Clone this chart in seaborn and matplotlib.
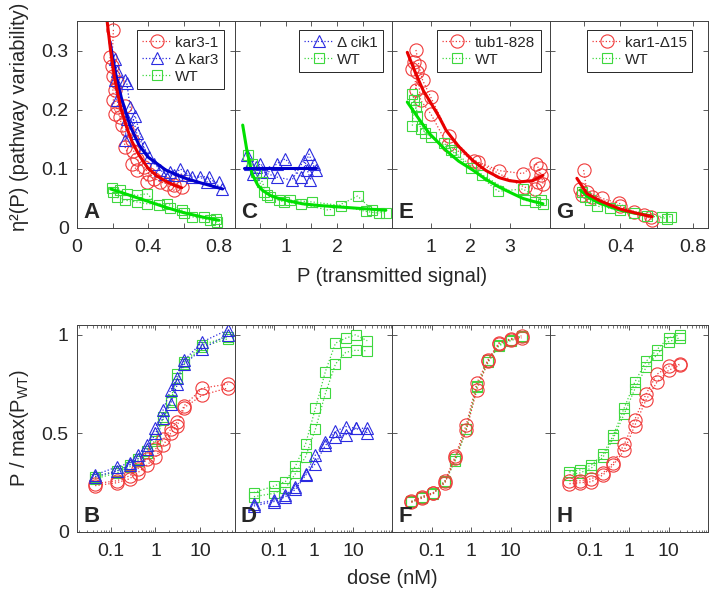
import matplotlib
matplotlib.use("Agg")
import matplotlib.pyplot as plt
import seaborn as sns
from matplotlib.ticker import LogLocator, NullFormatter

sns.set_style("ticks")
plt.rcParams['font.family'] = ['Liberation Sans', 'DejaVu Sans']
plt.rcParams['mathtext.fontset'] = 'custom'
plt.rcParams['mathtext.rm'] = 'Liberation Sans'
plt.rcParams['mathtext.it'] = 'Liberation Sans:italic'

# ---- panel A: kar3-1 / Δkar3 / WT
a_kar31_x1 = [0.186, 0.2, 0.215, 0.224, 0.243, 0.271, 0.28, 0.309, 0.318, 0.337, 0.375, 0.431, 0.507, 0.582]
a_kar31_y1 = [0.289, 0.257, 0.233, 0.247, 0.188, 0.207, 0.165, 0.148, 0.131, 0.117, 0.103, 0.083, 0.075, 0.08]
a_kar31_x2 = [0.205, 0.196, 0.205, 0.215, 0.224, 0.252, 0.271, 0.309, 0.337, 0.394, 0.403, 0.469, 0.544, 0.544, 0.591]
a_kar31_y2 = [0.335, 0.274, 0.216, 0.193, 0.205, 0.174, 0.137, 0.109, 0.098, 0.078, 0.092, 0.078, 0.072, 0.064, 0.069]
a_dkar3_x1 = [0.215, 0.215, 0.224, 0.28, 0.271, 0.327, 0.375, 0.431, 0.525, 0.62, 0.742, 0.817]
a_dkar3_y1 = [0.286, 0.25, 0.216, 0.184, 0.148, 0.19, 0.137, 0.109, 0.095, 0.089, 0.086, 0.066]
a_dkar3_x2 = [0.224, 0.271, 0.28, 0.299, 0.337, 0.403, 0.469, 0.497, 0.544, 0.582, 0.648, 0.695, 0.733, 0.798]
a_dkar3_y2 = [0.266, 0.25, 0.246, 0.205, 0.16, 0.12, 0.098, 0.092, 0.089, 0.1, 0.086, 0.086, 0.078, 0.078]
a_wt_x1 = [0.196, 0.243, 0.28, 0.337, 0.394, 0.46, 0.525, 0.6, 0.714, 0.789]
a_wt_y1 = [0.067, 0.064, 0.058, 0.055, 0.058, 0.039, 0.033, 0.025, 0.019, 0.010]
a_wt_x2 = [0.205, 0.224, 0.271, 0.337, 0.394, 0.507, 0.591, 0.648, 0.75, 0.785]
a_wt_y2 = [0.061, 0.052, 0.047, 0.044, 0.041, 0.041, 0.030, 0.019, 0.013, 0.016]
a_fit_red_x = [0.17, 0.19, 0.21, 0.23, 0.25, 0.28, 0.31, 0.35, 0.40, 0.45, 0.50, 0.55, 0.59]
a_fit_red_y = [0.349, 0.298, 0.257, 0.226, 0.200, 0.170, 0.146, 0.123, 0.101, 0.088, 0.079, 0.072, 0.068]
a_fit_blue_x = [0.186, 0.2, 0.22, 0.25, 0.3, 0.35, 0.4, 0.5, 0.6, 0.7, 0.82]
a_fit_blue_y = [0.315, 0.29, 0.258, 0.22, 0.172, 0.14, 0.12, 0.098, 0.085, 0.076, 0.066]
a_fit_green_x = [0.19, 0.3, 0.4, 0.5, 0.6, 0.7, 0.8]
a_fit_green_y = [0.066, 0.055, 0.045, 0.035, 0.026, 0.019, 0.013]

# ---- panel C: Δcik1 / WT
c_cik1_x1 = [0.24, 0.37, 0.5, 0.67, 0.83, 0.99, 1.29, 1.45, 1.58]
c_cik1_y1 = [0.123, 0.092, 0.109, 0.095, 0.109, 0.117, 0.086, 0.125, 0.098]
c_cik1_x2 = [0.31, 0.41, 0.54, 0.83, 1.12, 1.35, 1.42, 1.48, 1.55]
c_cik1_y2 = [0.109, 0.103, 0.095, 0.086, 0.081, 0.114, 0.098, 0.081, 0.109]
c_wt_x1 = [0.27, 0.41, 0.57, 0.70, 0.96, 1.29, 1.84, 2.40, 2.69, 2.95]
c_wt_y1 = [0.123, 0.095, 0.061, 0.053, 0.044, 0.041, 0.030, 0.054, 0.030, 0.025]
c_wt_x2 = [0.34, 0.54, 0.63, 0.86, 1.09, 1.52, 2.07, 2.56, 2.82]
c_wt_y2 = [0.109, 0.078, 0.056, 0.047, 0.047, 0.044, 0.038, 0.028, 0.025]
c_fit_blue_x = [0.18, 1.58]
c_fit_blue_y = [0.101, 0.101]
c_fit_green_x = [0.16, 0.24, 0.34, 0.45, 0.54, 0.7, 0.86, 1.1, 1.32, 1.65, 1.97, 2.3, 2.62, 2.95]
c_fit_green_y = [0.174, 0.132, 0.092, 0.073, 0.064, 0.055, 0.050, 0.045, 0.041, 0.038, 0.036, 0.034, 0.032, 0.030]

# ---- panel E: tub1-828 / WT
e_tub_x1 = [0.61, 0.69, 0.78, 0.99, 1.46, 2.10, 2.74, 3.34, 3.68, 3.81, 3.85]
e_tub_y1 = [0.301, 0.274, 0.25, 0.221, 0.156, 0.114, 0.097, 0.092, 0.109, 0.09, 0.075]
e_tub_x2 = [0.52, 0.56, 0.61, 0.65, 0.73, 0.99, 1.42, 2.19, 3.38, 3.64, 3.73, 3.77]
e_tub_y2 = [0.269, 0.281, 0.233, 0.263, 0.216, 0.193, 0.140, 0.111, 0.069, 0.066, 0.078, 0.101]
e_wt_x1 = [0.52, 0.61, 0.73, 0.99, 1.50, 2.02, 2.70, 3.34, 3.81]
e_wt_y1 = [0.227, 0.205, 0.168, 0.154, 0.132, 0.101, 0.062, 0.066, 0.047]
e_wt_x2 = [0.52, 0.56, 0.65, 0.85, 1.33, 1.60, 2.3, 3.38, 3.64, 3.85]
e_wt_y2 = [0.173, 0.216, 0.19, 0.16, 0.143, 0.128, 0.09, 0.047, 0.044, 0.040]
e_fit_red_x = [0.39, 0.6, 0.8, 0.95, 1.2, 1.38, 1.7, 2.06, 2.4, 2.74, 3.0, 3.25, 3.59, 3.85]
e_fit_red_y = [0.297, 0.262, 0.232, 0.216, 0.188, 0.165, 0.138, 0.114, 0.097, 0.085, 0.080, 0.078, 0.080, 0.089]
e_fit_green_x = [0.39, 0.7, 0.95, 1.38, 1.7, 2.06, 2.4, 2.74, 3.05, 3.34, 3.6, 3.85]
e_fit_green_y = [0.213, 0.183, 0.160, 0.131, 0.113, 0.098, 0.082, 0.069, 0.059, 0.050, 0.045, 0.041]

# ---- panel G: kar1-Δ15 / WT
g_kar1_x1 = [0.196, 0.215, 0.298, 0.391, 0.474, 0.567]
g_kar1_y1 = [0.098, 0.061, 0.050, 0.042, 0.027, 0.019]
g_kar1_x2 = [0.178, 0.187, 0.243, 0.4, 0.53, 0.576]
g_kar1_y2 = [0.066, 0.055, 0.053, 0.037, 0.022, 0.014]
g_wt_x1 = [0.187, 0.232, 0.341, 0.474, 0.632, 0.678]
g_wt_y1 = [0.061, 0.048, 0.034, 0.026, 0.019, 0.019]
g_wt_x2 = [0.204, 0.271, 0.4, 0.548, 0.66]
g_wt_y2 = [0.053, 0.037, 0.030, 0.021, 0.016]
g_fit_red_x = [0.159, 0.215, 0.28, 0.341, 0.4, 0.474, 0.576]
g_fit_red_y = [0.084, 0.058, 0.047, 0.039, 0.032, 0.026, 0.019]
g_fit_green_x = [0.178, 0.22, 0.271, 0.34, 0.4, 0.48, 0.56]
g_fit_green_y = [0.064, 0.053, 0.044, 0.036, 0.030, 0.025, 0.021]

# ---- dose response panels
b_dose = [0.045, 0.138, 0.265, 0.40, 0.65, 1.0, 1.49, 2.17, 3.08, 4.33, 11.2, 40.8]
b_dkar3_1 = [0.29, 0.33, 0.35, 0.39, 0.44, 0.53, 0.62, 0.72, 0.78, 0.87, 0.965, 1.025]
b_dkar3_2 = [0.28, 0.31, 0.34, 0.37, 0.42, 0.50, 0.58, 0.65, 0.75, 0.85, 0.93, 1.0]
b_wt_1 = [0.28, 0.31, 0.34, 0.37, 0.41, 0.47, 0.585, 0.67, 0.80, 0.86, 0.95, 0.99]
b_wt_2 = [0.27, 0.30, 0.33, 0.36, 0.40, 0.46, 0.57, 0.66, 0.78, 0.85, 0.94, 0.98]
b_kar31_1 = [0.245, 0.26, 0.285, 0.32, 0.37, 0.42, 0.47, 0.52, 0.56, 0.64, 0.73, 0.75]
b_kar31_2 = [0.235, 0.25, 0.27, 0.30, 0.34, 0.38, 0.44, 0.50, 0.54, 0.63, 0.695, 0.73]

d_dose = [0.031, 0.099, 0.195, 0.35, 0.63, 1.12, 2.0, 3.6, 6.5, 11.6, 23]
d_wt_1 = [0.2, 0.233, 0.256, 0.335, 0.447, 0.628, 0.814, 0.958, 0.983, 1.0, 0.97]
d_wt_2 = [0.179, 0.196, 0.221, 0.297, 0.382, 0.522, 0.703, 0.852, 0.911, 0.922, 0.919]
d_cik1_1 = [0.142, 0.162, 0.188, 0.227, 0.294, 0.391, 0.459, 0.51, 0.535, 0.526, 0.526]
d_cik1_2 = [0.132, 0.154, 0.179, 0.216, 0.288, 0.347, 0.44, 0.484, 0.493, 0.526, 0.504]

fh_dose = [0.031, 0.058, 0.112, 0.22, 0.40, 0.76, 1.4, 2.7, 5.1, 10, 19]
f_tub_1 = [0.155, 0.18, 0.2, 0.26, 0.385, 0.545, 0.755, 0.875, 0.96, 0.98, 0.995]
f_tub_2 = [0.15, 0.172, 0.197, 0.25, 0.375, 0.515, 0.72, 0.865, 0.955, 0.975, 0.985]
f_wt_1 = [0.152, 0.175, 0.195, 0.255, 0.36, 0.52, 0.735, 0.86, 0.945, 0.97, 0.99]
f_wt_2 = [0.155, 0.178, 0.2, 0.258, 0.37, 0.525, 0.74, 0.87, 0.95, 0.975, 0.995]
h_wt_1 = [0.305, 0.315, 0.34, 0.395, 0.49, 0.63, 0.76, 0.865, 0.925, 0.985, 1.0]
h_wt_2 = [0.29, 0.3, 0.325, 0.38, 0.475, 0.6, 0.725, 0.835, 0.9, 0.965, 0.985]
h_kar1_1 = [0.26, 0.26, 0.27, 0.3, 0.35, 0.445, 0.57, 0.7, 0.8, 0.84, 0.85]
h_kar1_2 = [0.245, 0.25, 0.255, 0.29, 0.34, 0.415, 0.54, 0.67, 0.76, 0.82, 0.845]

RED, GREEN, BLUE = '#F03A3A', '#3FD83F', '#2B2BE0'
RED_FIT, GREEN_FIT, BLUE_FIT = '#E80000', '#00E000', '#0000CC'
EDGE = '#404040'
SIZES = {'o': 9.5, '^': 9, 's': 7}


def pts(ax, x, y, color, marker, label=None, ms=None):
    sns.lineplot(x=x, y=y, ax=ax, color=color, linestyle=':', linewidth=0.9,
                 marker=marker, markersize=ms or SIZES[marker], markerfacecolor='none',
                 markeredgecolor=color, markeredgewidth=0.8, sort=False,
                 estimator=None, label=label, legend=False)


def fit(ax, x, y, color):
    sns.lineplot(x=x, y=y, ax=ax, color=color, linewidth=2.2, sort=False,
                 estimator=None, legend=False)


def style(ax, letter, log=False):
    for s in ax.spines.values():
        s.set_color(EDGE)
        s.set_linewidth(0.7)
    ax.tick_params(direction='in', top=True, right=True, length=3.5, width=0.6,
                   labelsize=14, colors=EDGE, labelcolor='#262626')
    ax.tick_params(axis='x', pad=8)
    ax.tick_params(axis='y', pad=6)
    if log:
        ax.set_xscale('log')
        ax.xaxis.set_minor_locator(LogLocator(base=10, subs=range(2, 10), numticks=20))
        ax.xaxis.set_minor_formatter(NullFormatter())
        ax.tick_params(which='minor', direction='in', top=True, length=1.8, width=0.5, colors=EDGE)
    ax.set_xlabel('')
    ax.set_ylabel('')
    ax.text(0.04, 0.025, letter, transform=ax.transAxes, fontsize=16,
            fontweight='bold', ha='left', va='bottom')


def legend(ax, order, right):
    h, l = ax.get_legend_handles_labels()
    d = dict(zip(l, h))
    leg = ax.legend([d[k] for k in order], order, loc='upper right',
                    bbox_to_anchor=(right, 0.955), fontsize=11, frameon=True,
                    fancybox=False, framealpha=1, edgecolor='#262626',
                    handlelength=1.9, handletextpad=0.25, labelspacing=0.2,
                    borderpad=0.35, borderaxespad=0)
    leg.get_frame().set_linewidth(0.7)


fig = plt.figure(figsize=(7.09, 5.93), dpi=100)
W, H = 709.0, 593.0
lefts = [77, 234.5, 392, 550]
pw = 158
top_axes = [fig.add_axes([l / W, 1 - 228 / H, pw / W, 207 / H]) for l in lefts]
bot_axes = [fig.add_axes([l / W, 1 - 532 / H, pw / W, 207 / H]) for l in lefts]

# A
ax = top_axes[0]
pts(ax, a_kar31_x1, a_kar31_y1, RED, 'o', 'kar3-1')
pts(ax, a_kar31_x2, a_kar31_y2, RED, 'o')
pts(ax, a_dkar3_x1, a_dkar3_y1, BLUE, '^', 'Δ kar3')
pts(ax, a_dkar3_x2, a_dkar3_y2, BLUE, '^')
pts(ax, a_wt_x1, a_wt_y1, GREEN, 's', 'WT')
pts(ax, a_wt_x2, a_wt_y2, GREEN, 's')
fit(ax, a_fit_green_x, a_fit_green_y, GREEN_FIT)
fit(ax, a_fit_blue_x, a_fit_blue_y, BLUE_FIT)
fit(ax, a_fit_red_x, a_fit_red_y, RED_FIT)
ax.set_xlim(0, 0.89)
ax.set_xticks([0, 0.2, 0.4, 0.6, 0.8], ['0', '', '0.4', '', '0.8'])
legend(ax, ['kar3-1', 'Δ kar3', 'WT'], 0.93)
style(ax, 'A')

# C
ax = top_axes[1]
pts(ax, c_cik1_x1, c_cik1_y1, BLUE, '^', 'Δ cik1')
pts(ax, c_cik1_x2, c_cik1_y2, BLUE, '^')
pts(ax, c_wt_x1, c_wt_y1, GREEN, 's', 'WT')
pts(ax, c_wt_x2, c_wt_y2, GREEN, 's')
fit(ax, c_fit_green_x, c_fit_green_y, GREEN_FIT)
fit(ax, c_fit_blue_x, c_fit_blue_y, BLUE_FIT)
ax.set_xlim(0, 3.08)
ax.set_xticks([0.5, 1, 1.5, 2, 2.5], ['', '1', '', '2', ''])
legend(ax, ['Δ cik1', 'WT'], 0.94)
style(ax, 'C')

# E
ax = top_axes[2]
pts(ax, e_tub_x1, e_tub_y1, RED, 'o', 'tub1-828')
pts(ax, e_tub_x2, e_tub_y2, RED, 'o')
pts(ax, e_wt_x1, e_wt_y1, GREEN, 's', 'WT')
pts(ax, e_wt_x2, e_wt_y2, GREEN, 's')
fit(ax, e_fit_green_x, e_fit_green_y, GREEN_FIT)
fit(ax, e_fit_red_x, e_fit_red_y, RED_FIT)
ax.set_xlim(0, 4.03)
ax.set_xticks([1, 2, 3], ['1', '2', '3'])
legend(ax, ['tub1-828', 'WT'], 0.94)
style(ax, 'E')

# G
ax = top_axes[3]
pts(ax, g_kar1_x1, g_kar1_y1, RED, 'o', 'kar1-Δ15')
pts(ax, g_kar1_x2, g_kar1_y2, RED, 'o')
pts(ax, g_wt_x1, g_wt_y1, GREEN, 's', 'WT')
pts(ax, g_wt_x2, g_wt_y2, GREEN, 's')
fit(ax, g_fit_green_x, g_fit_green_y, GREEN_FIT)
fit(ax, g_fit_red_x, g_fit_red_y, RED_FIT)
ax.set_xlim(0.01, 0.885)
ax.set_xticks([0.2, 0.4, 0.6, 0.8], ['', '0.4', '', '0.8'])
legend(ax, ['kar1-Δ15', 'WT'], 0.9)
style(ax, 'G')

for i, ax in enumerate(top_axes):
    ax.set_ylim(0, 0.35)
    ax.set_yticks([0, 0.1, 0.2, 0.3])
    if i == 0:
        ax.set_yticklabels(['0', '0.1', '0.2', '0.3'])
    else:
        ax.tick_params(labelleft=False)

# B
ax = bot_axes[0]
pts(ax, b_dose, b_wt_1, GREEN, 's')
pts(ax, b_dose, b_wt_2, GREEN, 's')
pts(ax, b_dose, b_kar31_1, RED, 'o')
pts(ax, b_dose, b_kar31_2, RED, 'o')
pts(ax, b_dose, b_dkar3_1, BLUE, '^')
pts(ax, b_dose, b_dkar3_2, BLUE, '^')
style(ax, 'B', log=True)
ax.set_xlim(0.0177, 59.6)

# D
ax = bot_axes[1]
pts(ax, d_dose, d_wt_1, GREEN, 's')
pts(ax, d_dose, d_wt_2, GREEN, 's')
pts(ax, d_dose, d_cik1_1, BLUE, '^')
pts(ax, d_dose, d_cik1_2, BLUE, '^')
style(ax, 'D', log=True)
ax.set_xlim(0.01, 100)

# F
ax = bot_axes[2]
pts(ax, fh_dose, f_wt_1, GREEN, 's')
pts(ax, fh_dose, f_wt_2, GREEN, 's')
pts(ax, fh_dose, f_tub_1, RED, 'o')
pts(ax, fh_dose, f_tub_2, RED, 'o')
style(ax, 'F', log=True)
ax.set_xlim(0.01, 100)

# H
ax = bot_axes[3]
pts(ax, fh_dose, h_wt_1, GREEN, 's')
pts(ax, fh_dose, h_wt_2, GREEN, 's')
pts(ax, fh_dose, h_kar1_1, RED, 'o')
pts(ax, fh_dose, h_kar1_2, RED, 'o')
style(ax, 'H', log=True)
ax.set_xlim(0.01, 100)

for i, ax in enumerate(bot_axes):
    ax.set_xticks([0.1, 1, 10], ['0.1', '1', '10'])
    ax.set_ylim(0, 1.05)
    ax.set_yticks([0, 0.5, 1])
    if i == 0:
        ax.set_yticklabels(['0', '0.5', '1'])
    else:
        ax.tick_params(labelleft=False)

fig.text(392 / W, 1 - 277 / H, 'P (transmitted signal)', ha='center', va='center', fontsize=14.5, color='#262626')
fig.text(392 / W, 1 - 579 / H, 'dose (nM)', ha='center', va='center', fontsize=14.5, color='#262626')
fig.text(20 / W, 1 - 117 / H, 'η²(P) (pathway variability)', ha='center', va='center',
         rotation=90, fontsize=14.5, color='#262626')
fig.text(20 / W, 1 - 428 / H, r'P / max(P$_{\mathrm{WT}}$)', ha='center', va='center',
         rotation=90, fontsize=14.5, color='#262626')

fig.savefig('out.png', dpi=100)
